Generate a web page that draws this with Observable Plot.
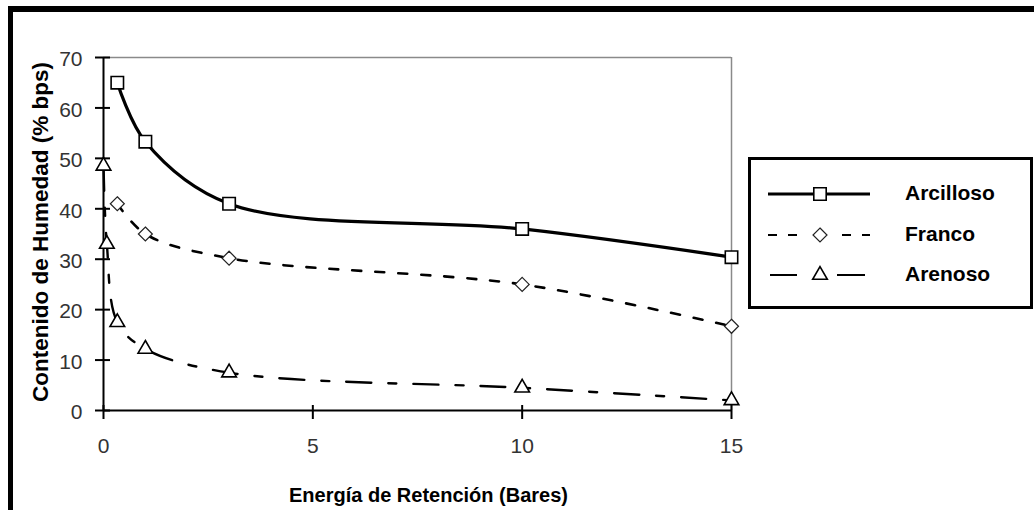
<!DOCTYPE html>
<html><head><meta charset="utf-8">
<script src="https://cdn.jsdelivr.net/npm/d3@7"></script>
<script src="https://cdn.jsdelivr.net/npm/@observablehq/plot@0.6"></script>
<style>
html,body{margin:0;padding:0;background:#fff;}
#wrap{position:relative;width:1034px;height:510px;overflow:hidden;background:#fff;font-family:"Liberation Sans",Arial,sans-serif;}
#frame{position:absolute;left:8px;top:6px;width:1100px;height:600px;border-left:5px solid #000;border-top:6px solid #000;box-sizing:border-box;}
#chart{position:absolute;left:0;top:0;}
#legend{position:absolute;left:0;top:0;}
</style></head><body>
<div id="wrap"><div id="frame"></div><div id="chart"></div><div id="legend"></div></div>
<script>
// ---- data ----
const series = ["Arcilloso", "Franco", "Arenoso"];
const arcX = [0.33, 1, 3, 10, 15];
const arcY = [65, 53.3, 41, 36, 30.4];
const fraX = [0.33, 1, 3, 10, 15];
const fraY = [41, 35, 30.2, 25, 16.7];
const areX = [0, 0.08, 0.33, 1, 3, 10, 15];
const areY = [48.5, 33, 17.5, 12.2, 7.5, 4.5, 2];
const xTicks = [0, 5, 10, 15];
const yTicks = [0, 10, 20, 30, 40, 50, 60, 70];
const xTitle = "Energía de Retención (Bares)";
const yTitle = "Contenido de Humedad (% bps)";

const rows = (name, X, Y) => X.map((x, i) => ({serie: name, x, y: Y[i]}));
const arc = rows(series[0], arcX, arcY);
const fra = rows(series[1], fraX, fraY);
const are = rows(series[2], areX, areY);

const font = "Liberation Sans, Arial, sans-serif";
const sty = {
  Arcilloso: {dash: null, width: 3.2, symbol: "square", r: 7, sw: 1.6, sc: "#000"},
  Franco: {dash: "9,14", width: 2.6, symbol: "diamond2", r: 6.3, sw: 1.2, sc: "#222"},
  Arenoso: {dash: "25,17,8,17", width: 2.4, symbol: "triangle2", r: 7, sw: 1.6, sc: "#000"}
};
const lineOf = (d, name) => Plot.line(d, {x: "x", y: "y", curve: "catmull-rom", stroke: "#000",
  strokeWidth: sty[name].width, strokeDasharray: sty[name].dash});
const dotOf = (d, name) => Plot.dot(d, {x: "x", y: "y", symbol: sty[name].symbol, r: sty[name].r,
  fill: "#fff", stroke: sty[name].sc, strokeWidth: sty[name].sw});

const chart = Plot.plot({
  width: 1034, height: 510,
  marginLeft: 103, marginRight: 303, marginTop: 57, marginBottom: 100,
  style: {background: "transparent", fontFamily: font},
  x: {domain: [0, 15], axis: null},
  y: {domain: [0, 70], axis: null},
  marks: [
    Plot.ruleY([70], {stroke: "#8a8a8a", strokeWidth: 1.5}),
    Plot.ruleX([15], {stroke: "#8a8a8a", strokeWidth: 1.5}),
    lineOf(arc, "Arcilloso"),
    lineOf(fra, "Franco"),
    lineOf(are, "Arenoso"),
    Plot.ruleX([0], {stroke: "#000", strokeWidth: 2}),
    Plot.ruleY([0], {stroke: "#000", strokeWidth: 2}),
    Plot.ruleX(xTicks, {x: d => d, y1: () => 0, y2: () => 0, insetTop: 9, insetBottom: 5, stroke: "#000", strokeWidth: 2}),
    Plot.ruleY(yTicks, {y: d => d, x1: () => 0, x2: () => 0, insetLeft: 7, insetRight: 8, stroke: "#000", strokeWidth: 2}),
    dotOf(arc, "Arcilloso"),
    dotOf(fra, "Franco"),
    dotOf(are, "Arenoso"),
    Plot.text(xTicks, {x: d => d, frameAnchor: "bottom", dy: 36, text: d => String(d), fontSize: 21, fill: "#333", lineAnchor: "middle"}),
    Plot.text(yTicks, {y: d => d, frameAnchor: "left", dx: -21, dy: 2, text: d => String(d), fontSize: 21, fill: "#333", textAnchor: "end", lineAnchor: "middle"}),
    Plot.text([xTitle], {frameAnchor: "bottom", dy: 85, dx: 11, text: d => d, fontSize: 20, fontWeight: "bold", fill: "#000", lineAnchor: "middle"}),
    Plot.text([yTitle], {frameAnchor: "left", dx: -63, dy: -2, rotate: -90, text: d => d, fontSize: 22.5, fontWeight: "bold", fill: "#000", textAnchor: "middle", lineAnchor: "middle"})
  ]
});
document.getElementById("chart").appendChild(chart);

// ---- legend ----
const lg = d3.select("#legend").append("svg").attr("width", 1034).attr("height", 510)
  .style("font-family", font);
lg.append("rect").attr("x", 749.5).attr("y", 158.5).attr("width", 282).attr("height", 149)
  .attr("fill", "#fff").attr("stroke", "#000").attr("stroke-width", 3);
const rowY = [194, 235, 275];
const symMap = {square: d3.symbolSquare, diamond2: d3.symbolDiamond2, triangle2: d3.symbolTriangle2};
series.forEach((name, i) => {
  const s = sty[name], y = rowY[i];
  const g = lg.append("g");
  if (name === "Arcilloso") {
    g.append("line").attr("x1", 768).attr("x2", 870).attr("y1", y).attr("y2", y)
      .attr("stroke", "#000").attr("stroke-width", 3);
  } else if (name === "Franco") {
    [[768, 800], [842, 870]].forEach(([a, b]) => g.append("line").attr("x1", a).attr("x2", b)
      .attr("y1", y).attr("y2", y).attr("stroke", "#000").attr("stroke-width", 1.8).attr("stroke-dasharray", "9,11"));
  } else {
    [[770, 797], [837, 865]].forEach(([a, b]) => g.append("line").attr("x1", a).attr("x2", b)
      .attr("y1", y).attr("y2", y).attr("stroke", "#000").attr("stroke-width", 2));
  }
  g.append("path").attr("transform", `translate(820,${y})`)
    .attr("d", d3.symbol(symMap[s.symbol], Math.PI * s.r * s.r)())
    .attr("fill", "#fff").attr("stroke", s.sc).attr("stroke-width", s.sw);
  lg.append("text").attr("x", 905).attr("y", y - 1).attr("dy", "0.35em")
    .attr("font-size", 21).attr("font-weight", "bold").text(name);
});
</script>
</body></html>
